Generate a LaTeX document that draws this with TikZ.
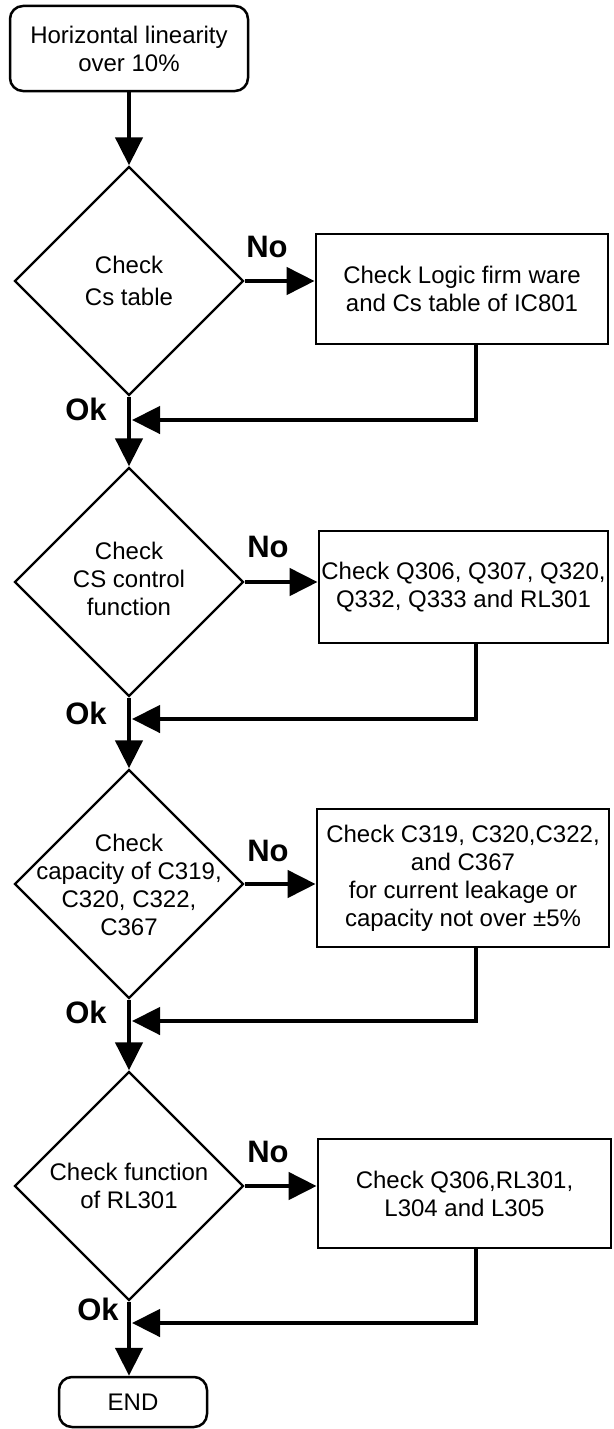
\documentclass[tikz,border=0pt]{standalone}
\usepackage{fontspec}
\setmainfont{Liberation Sans}
\usetikzlibrary{shapes.geometric,arrows.meta,calc}
\begin{document}
\begin{tikzpicture}[x=1pt,y=-1pt,
  txt/.style={font=\fontsize{24}{28}\selectfont, align=center},
  startbox/.style={draw, line width=2.5pt, rounded corners=13pt, inner sep=0pt, txt},
  procbox/.style={draw, line width=2.8pt, inner sep=0pt, txt},
  decision/.style={draw, diamond, line width=2.4pt, minimum width=229pt, minimum height=229pt, inner sep=0pt},
  flow/.style={line width=4.5pt, -{Triangle[length=28pt,width=27pt]}},
  lbl/.style={font=\fontsize{31}{34}\selectfont\bfseries}
]
\useasboundingbox (0,0) rectangle (613,1429);

% nodes
\node[startbox, minimum width=238pt, minimum height=85pt] (start) at (129,48.5) {Horizontal linearity\\over 10\%};

\node[decision, label={[font=\fontsize{24}{32}\selectfont, align=center]center:{Check\\Cs table}}] (d1) at (129,281) {};
\node[procbox, minimum width=292pt, minimum height=110pt] (b1) at (462,289) {Check Logic firm ware\\and Cs table of IC801};

\node[decision, label={[txt,yshift=3pt]center:{Check\\CS control\\function}}] (d2) at (129,582) {};
\node[procbox, minimum width=289pt, minimum height=112pt] (b2) at (463.5,587) {Check Q306, Q307, Q320,\\Q332, Q333 and RL301};

\node[decision, label={[txt,yshift=-1pt]center:{Check\\capacity of C319,\\C320, C322,\\C367}}] (d3) at (129,884) {};
\node[procbox, minimum width=292pt, minimum height=138pt] (b3) at (463,878) {Check C319, C320,C322,\\and C367\\for current leakage or\\capacity not over ±5\%};

\node[decision, label={[txt]center:{Check function\\of RL301}}] (d4) at (129,1186) {};
\node[procbox, minimum width=293pt, minimum height=109pt] (b4) at (464.5,1193.5) {Check Q306,RL301,\\L304 and L305};

\node[startbox, minimum width=148pt, minimum height=50pt] (end) at (133,1402) {END};

% labels
\node[lbl] (no1) at (267,247) {No};
\node[lbl] (no2) at (268,547) {No};
\node[lbl] (no3) at (268,851) {No};
\node[lbl] (no4) at (268,1152) {No};
\node[lbl] (ok1) at (86,409) {Ok};
\node[lbl] (ok2) at (86,713) {Ok};
\node[lbl] (ok3) at (86,1012) {Ok};
\node[lbl] (ok4) at (98,1309) {Ok};

% corner coordinates of the return paths
\coordinate (f1) at (476,420);
\coordinate (f2) at (476,719);
\coordinate (f3) at (476,1021);
\coordinate (f4) at (476,1323);

% main line
\draw[flow] (start.south) -- (d1.north);
\draw[flow] (d1.south) -- (d2.north);
\draw[flow] (d2.south) -- (d3.north);
\draw[flow] (d3.south) -- (d4.north);
\draw[flow] (d4.south) -- (d4.south |- end.north);

% No branches
\draw[flow] (d1.east) -- (d1.east -| b1.west);
\draw[flow] (d2.east) -- (d2.east -| b2.west);
\draw[flow] (d3.east) -- (d3.east -| b3.west);
\draw[flow] (d4.east) -- (d4.east -| b4.west);

% return paths
\draw[flow] (b1.south -| f1) -- (f1) -- ($(f1 -| d1.south)+(3,0)$);
\draw[flow] (b2.south -| f2) -- (f2) -- ($(f2 -| d2.south)+(3,0)$);
\draw[flow] (b3.south -| f3) -- (f3) -- ($(f3 -| d3.south)+(3,0)$);
\draw[flow] (b4.south -| f4) -- (f4) -- ($(f4 -| d4.south)+(3,0)$);
\end{tikzpicture}
\end{document}
